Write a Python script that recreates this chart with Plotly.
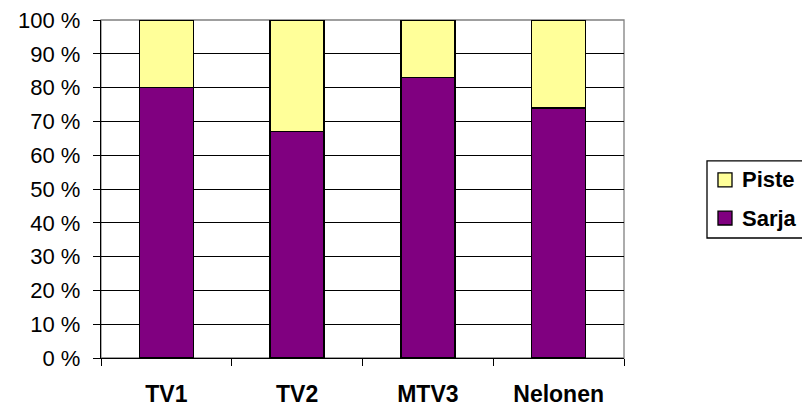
import plotly.graph_objects as go

categories = ["TV1", "TV2", "MTV3", "Nelonen"]
sarja = [80, 67, 83, 74]
piste = [20, 33, 17, 26]
series_names = ["Sarja", "Piste"]
series_colors = ["#800080", "#FFFF99"]
ytick_vals = [0, 10, 20, 30, 40, 50, 60, 70, 80, 90, 100]
ytick_text = [f"{v} %" for v in ytick_vals]

fig = go.Figure()
for name, vals, col in zip(series_names, [sarja, piste], series_colors):
    fig.add_trace(go.Bar(x=categories, y=vals, name=name, showlegend=False,
                         marker=dict(color=col, line=dict(color="black", width=1.5))))

# custom legend (Piste on top, Sarja below), placed in paper coordinates
legend_shapes = [dict(type="rect", xref="paper", yref="paper",
                      x0=1.1587, x1=1.40, y0=0.355, y1=0.583,
                      line=dict(color="black", width=1.3), fillcolor="white")]
legend_ann = []
rows = [("Piste", series_colors[1], 0.527), ("Sarja", series_colors[0], 0.414)]
for name, col, yc in rows:
    legend_shapes.append(dict(type="rect", xref="paper", yref="paper",
                              x0=1.1797, x1=1.2065, y0=yc - 0.0205, y1=yc + 0.0205,
                              line=dict(color="black", width=1.3), fillcolor=col))
    legend_ann.append(dict(xref="paper", yref="paper", x=1.2218, y=yc,
                           xanchor="left", yanchor="middle", showarrow=False,
                           text=f"<b>{name}</b>",
                           font=dict(size=22, family="Arial, Liberation Sans", color="black")))

# page body has an 8px margin, so the figure is offset by 8px; compensate in margins
fig.update_layout(
    barmode="stack",
    bargap=0.587,
    width=810, height=407,
    margin=dict(l=93, r=194, t=12, b=57),
    plot_bgcolor="white", paper_bgcolor="white",
    font=dict(family="Arial, Liberation Sans", size=22, color="black"),
    showlegend=False,
    shapes=[dict(type="rect", xref="paper", yref="paper", x0=0, x1=1, y0=0, y1=1,
                 line=dict(color="#808080", width=1.3), layer="below")] + legend_shapes,
    annotations=legend_ann,
)
fig.update_yaxes(range=[0, 100], tickvals=ytick_vals, ticktext=ytick_text,
                 automargin=False, ticklabeloverflow="allow",
                 showgrid=True, gridcolor="black", gridwidth=1.3,
                 showline=True, linecolor="black", linewidth=1.3,
                 ticks="outside", ticklen=7, tickcolor="black", tickwidth=1.3,
                 ticklabelstandoff=8,
                 zeroline=False, tickfont=dict(size=22))
fig.update_xaxes(automargin=False, ticklabeloverflow="allow",
                 showgrid=False, showline=True, linecolor="black", linewidth=1.3,
                 ticks="outside", tickson="boundaries", ticklen=7, tickcolor="black",
                 tickwidth=1.3, ticklabelstandoff=15,
                 tickfont=dict(weight="bold", size=23))

fig.write_html("out.html")
